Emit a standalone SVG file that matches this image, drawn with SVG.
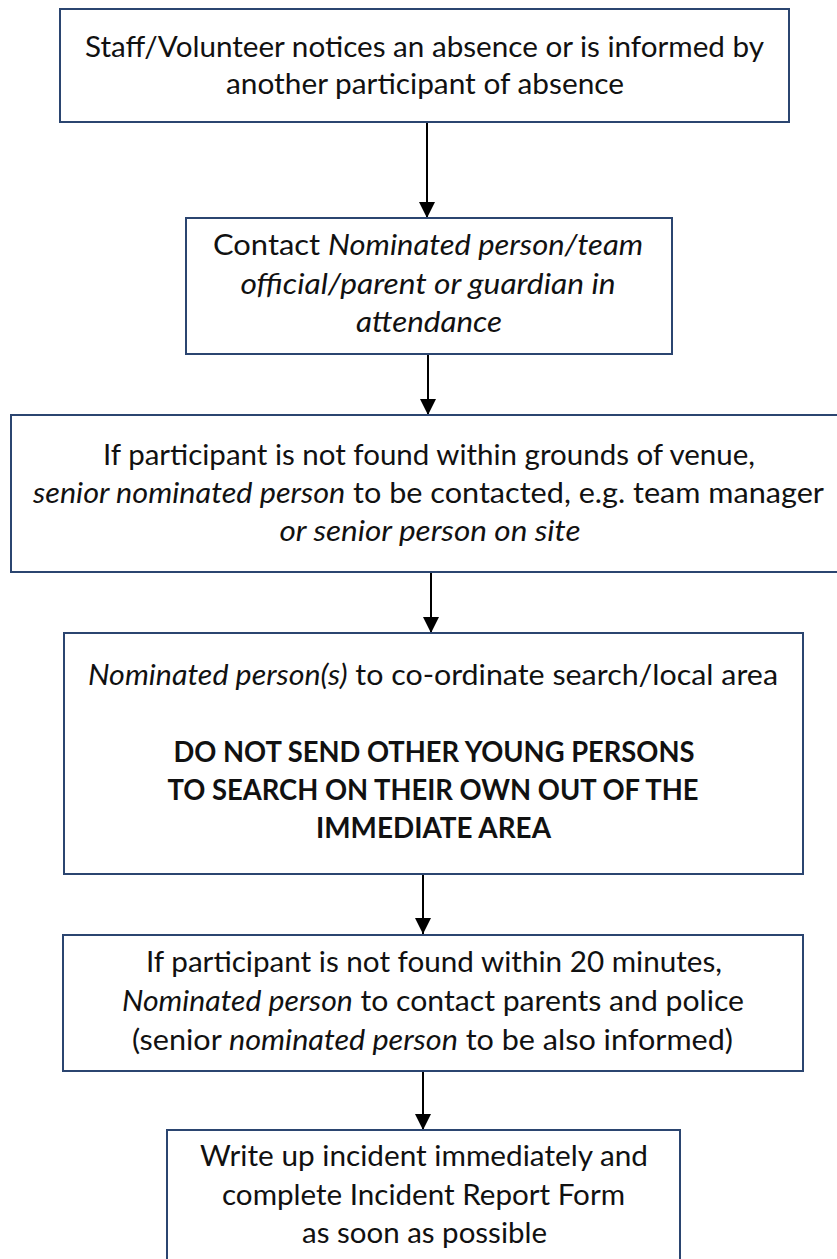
<svg xmlns="http://www.w3.org/2000/svg" width="837" height="1259" viewBox="0 0 837 1259">
  <defs>
    <style>
      .box { fill: #ffffff; stroke: #2B4570; stroke-width: 2; }
      .t { font-family: Lato, "Open Sans", "Liberation Sans", sans-serif; font-size: 28px; fill: #111111; text-anchor: middle; }
      .i { font-style: italic; }
      .b { font-weight: bold; }
      .conn { stroke: #000000; stroke-width: 2; fill: none; }
    </style>
    <marker id="arrow" viewBox="0 0 16 16" markerWidth="16" markerHeight="16" refX="16" refY="8" orient="auto" markerUnits="userSpaceOnUse">
      <path d="M0,0 L16,8 L0,16 Z" fill="#000000"/>
    </marker>
  </defs>
  <rect x="0" y="0" width="837" height="1259" fill="#ffffff"/>

  <g id="connectors">
    <line class="conn" x1="427" y1="122" x2="427" y2="218" marker-end="url(#arrow)"/>
    <line class="conn" x1="428" y1="354" x2="428" y2="415" marker-end="url(#arrow)"/>
    <line class="conn" x1="431" y1="572" x2="431" y2="633" marker-end="url(#arrow)"/>
    <line class="conn" x1="423" y1="874" x2="423" y2="934" marker-end="url(#arrow)"/>
    <line class="conn" x1="423" y1="1071" x2="423" y2="1130" marker-end="url(#arrow)"/>
  </g>

  <g id="node1">
    <rect class="box" x="60" y="9" width="729" height="113"/>
    <text class="t" x="424.5" y="57" textLength="679" lengthAdjust="spacingAndGlyphs">Staff/Volunteer notices an absence or is informed by</text>
    <text class="t" x="425" y="94" textLength="398" lengthAdjust="spacingAndGlyphs">another participant of absence</text>
  </g>

  <g id="node2">
    <rect class="box" x="186" y="218" width="486" height="136"/>
    <text class="t" x="428" y="255" textLength="430" lengthAdjust="spacingAndGlyphs">Contact <tspan class="i">Nominated person/team</tspan></text>
    <text class="t i" x="428" y="294" textLength="375" lengthAdjust="spacingAndGlyphs">official/parent or guardian in</text>
    <text class="t i" x="429" y="332" textLength="146" lengthAdjust="spacingAndGlyphs">attendance</text>
  </g>

  <g id="node3">
    <rect class="box" x="11" y="415" width="840" height="157"/>
    <text class="t" x="429" y="465" textLength="652" lengthAdjust="spacingAndGlyphs">If participant is not found within grounds of venue,</text>
    <text class="t" x="428.5" y="503" textLength="791" lengthAdjust="spacingAndGlyphs"><tspan class="i">senior nominated person</tspan> to be contacted, e.g. team manager</text>
    <text class="t i" x="430" y="541" textLength="301" lengthAdjust="spacingAndGlyphs">or senior person on site</text>
  </g>

  <g id="node4">
    <rect class="box" x="64" y="633" width="739" height="241"/>
    <text class="t" x="433" y="685" textLength="690" lengthAdjust="spacingAndGlyphs"><tspan class="i">Nominated person(s)</tspan> to co-ordinate search/local area</text>
    <text class="t b" x="434" y="762" textLength="521" lengthAdjust="spacingAndGlyphs">DO NOT SEND OTHER YOUNG PERSONS</text>
    <text class="t b" x="433" y="800" textLength="531" lengthAdjust="spacingAndGlyphs">TO SEARCH ON THEIR OWN OUT OF THE</text>
    <text class="t b" x="433.5" y="838" textLength="235" lengthAdjust="spacingAndGlyphs">IMMEDIATE AREA</text>
  </g>

  <g id="node5">
    <rect class="box" x="63" y="935" width="740" height="136"/>
    <text class="t" x="434" y="972" textLength="576" lengthAdjust="spacingAndGlyphs">If participant is not found within 20 minutes,</text>
    <text class="t" x="433" y="1011" textLength="622" lengthAdjust="spacingAndGlyphs"><tspan class="i">Nominated person</tspan> to contact parents and police</text>
    <text class="t" x="432.5" y="1050" textLength="601" lengthAdjust="spacingAndGlyphs">(senior <tspan class="i">nominated person</tspan> to be also informed)</text>
  </g>

  <g id="node6">
    <rect class="box" x="167" y="1130" width="513" height="150"/>
    <text class="t" x="424" y="1166" textLength="448" lengthAdjust="spacingAndGlyphs">Write up incident immediately and</text>
    <text class="t" x="423.5" y="1205" textLength="403" lengthAdjust="spacingAndGlyphs">complete Incident Report Form</text>
    <text class="t" x="424.5" y="1243" textLength="245" lengthAdjust="spacingAndGlyphs">as soon as possible</text>
  </g>
</svg>
